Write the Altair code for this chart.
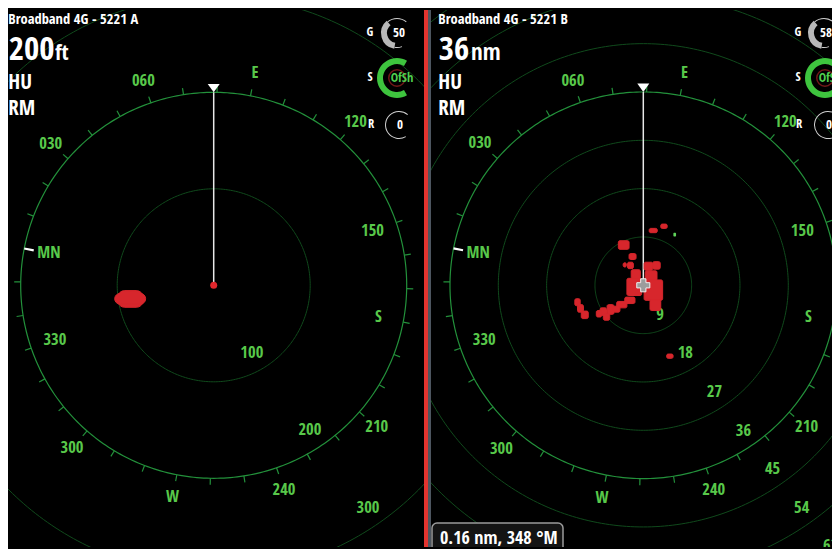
import numpy as np
import pandas as pd
import altair as alt

# ---------------- data ----------------
HEADING = 79                      # compass heading shown at top of display (deg)
TICK_DEG = list(range(10, 360, 10))
LABEL_DEG = [0, 30, 60, 90, 120, 150, 180, 210, 240, 270, 300, 330]
LABEL_TXT = ["MN", "030", "060", "E", "120", "150", "S", "210", "240", "W", "300", "330"]

A_RINGS = [100, 200, 300]         # ft
A_RANGE = 200
B_RINGS = [9, 18, 27, 36, 45, 54, 63]   # nm
B_RANGE = 36

# radar echoes, panel A (ft)
A_ECHO_X0 = [-99.5, -102.6]
A_ECHO_X1 = [-73.0, -70.5]
A_ECHO_Y0 = [-22.8, -19.5]
A_ECHO_Y1 = [-5.5, -8.5]

# radar echoes, panel B (nm)
B_ECHO_X0 = [-4.65, 1.1, 3.25, -2.65, -3.75, -2.95, 0.15, 1.75, -2.25, -3.05, 0.35, 0.15, 1.25,
             -3.45, -4.95, -8.05, -6.75, -5.55, -12.75, -12.25, -11.55, -8.75, -7.45, 4.35]
B_ECHO_X1 = [-2.65, 2.6, 4.45, -1.35, -3.15, -1.85, 1.75, 3.15, -0.55, -0.3, 2.55, 3.6, 3.25,
             -1.55, -3.05, -6.85, -5.45, -4.35, -11.75, -11.15, -10.25, -7.75, -6.25, 5.55]
B_ECHO_Y0 = [6.7, 9.8, 10.6, 4.8, 3.4, 3.1, 2.8, 3.0, 1.2, -1.9, 0.9, -2.8, -4.7,
             -3.4, -4.2, -5.6, -5.4, -5.0, -3.8, -5.0, -6.2, -5.9, -6.5, -13.6]
B_ECHO_Y1 = [8.3, 10.6, 11.4, 5.9, 4.2, 4.3, 4.3, 4.4, 2.9, 1.3, 2.7, 1.0, -2.7,
             -2.2, -3.0, -4.2, -3.6, -3.9, -2.5, -3.6, -4.8, -4.7, -5.3, -12.8]
B_GREEN_X0 = [5.6]
B_GREEN_X1 = [6.1]
B_GREEN_Y0 = [9.1]
B_GREEN_Y1 = [9.8]

# ---------------- styling ----------------
WA, WB, H = 416, 408, 537
GREEN = "#58c84a"
RING_COL = "#104a1c"
BRG_COL = "#23913b"
RED = "#d7262c"
FONT = "Open Sans Condensed"
RANGE_LABEL_ANGLE = 143


def pol(r, disp_deg):
    a = np.deg2rad(disp_deg)
    return r * np.sin(a), r * np.cos(a)


def ring_df(rings):
    ang = np.arange(0, 361, 1.0)
    rows = []
    for r in rings:
        xs, ys = pol(r, ang)
        for k in range(len(ang)):
            rows.append({"ring": r, "k": k, "x": xs[k], "y": ys[k]})
    return pd.DataFrame(rows)


def txt(text, x, y, size, color="white", align="left", baseline="alphabetic"):
    return alt.Chart(pd.DataFrame({"t": [text]})).mark_text(
        clip=True, font=FONT, fontSize=size, color=color, align=align, baseline=baseline
    ).encode(x=alt.value(x), y=alt.value(y), text="t:N")


def arc(cx, cy, r_out, r_in, a0, a1, color):
    return alt.Chart(pd.DataFrame({"k": [0]})).mark_arc(
        clip=True, radius=r_out, radius2=r_in,
        theta=float(np.deg2rad(a0)), theta2=float(np.deg2rad(a1)), color=color
    ).encode(x=alt.value(cx), y=alt.value(cy))


def panel(W, rings, rng, ppu, cx, cy, echo, green, center_kind, round_echo, hud, gauge):
    xs = alt.Scale(domain=[-cx / ppu, (W - cx) / ppu], nice=False, zero=False)
    ys = alt.Scale(domain=[-(H - cy) / ppu, cy / ppu], nice=False, zero=False)

    def ex(f):
        return alt.X(f"{f}:Q", scale=xs, axis=None)

    def ey(f):
        return alt.Y(f"{f}:Q", scale=ys, axis=None)

    R = rng
    layers = []
    layers.append(alt.Chart(ring_df([r for r in rings if r != rng])).mark_line(
        clip=True, color=RING_COL, strokeWidth=1).encode(
        x=ex("x"), y=ey("y"), detail="ring:N", order="k:Q"))
    layers.append(alt.Chart(ring_df([rng])).mark_line(
        clip=True, color=BRG_COL, strokeWidth=1.2).encode(
        x=ex("x"), y=ey("y"), detail="ring:N", order="k:Q"))
    d = np.array(TICK_DEG, float) - HEADING
    x1, y1 = pol(R, d)
    x2, y2 = pol(R * 1.034, d)
    tdf = pd.DataFrame({"x": x1, "y": y1, "x2": x2, "y2": y2})
    layers.append(alt.Chart(tdf).mark_rule(clip=True, color=BRG_COL, strokeWidth=1.2).encode(
        x=ex("x"), y=ey("y"), x2="x2", y2="y2"))
    mx1, my1 = pol(R, -HEADING)
    mx2, my2 = pol(R * 0.95, -HEADING)
    mdf = pd.DataFrame({"x": [mx1], "y": [my1], "x2": [mx2], "y2": [my2]})
    layers.append(alt.Chart(mdf).mark_rule(clip=True, color="white", strokeWidth=2.2).encode(
        x=ex("x"), y=ey("y"), x2="x2", y2="y2"))
    ld = np.array(LABEL_DEG, float) - HEADING
    inside = np.abs(np.sin(np.deg2rad(ld))) > 0.85
    lr = np.where(inside, R * 0.870, R * 1.119)
    lx, ly = pol(lr, ld)
    ldf = pd.DataFrame({"x": lx, "y": ly, "t": LABEL_TXT})
    layers.append(alt.Chart(ldf).mark_text(
        clip=True, font=FONT, fontSize=16.5, color=GREEN, align="center", baseline="middle").encode(
        x=ex("x"), y=ey("y"), text="t:N"))
    rx, ry = pol(np.array(rings, float), RANGE_LABEL_ANGLE)
    rdf = pd.DataFrame({"x": rx, "y": ry, "t": [str(r) for r in rings]})
    layers.append(alt.Chart(rdf).mark_text(
        clip=True, font=FONT, fontSize=16.5, color=GREEN, align="right", baseline="middle",
        dx=-8.5, dy=-9).encode(x=ex("x"), y=ey("y"), text="t:N"))
    hdf = pd.DataFrame({"x": [0.0], "y": [0.0], "x2": [0.0], "y2": [float(R)]})
    layers.append(alt.Chart(hdf).mark_rule(clip=True, color="#e8e8e8", strokeWidth=1.5).encode(
        x=ex("x"), y=ey("y"), x2="x2", y2="y2"))
    layers.append(alt.Chart(pd.DataFrame({"x": [0.0], "y": [float(R)]})).mark_point(
        clip=True, shape="M-1,-1.4L1,-1.4L0,0Z", filled=True, size=144, color="white",
        opacity=1).encode(x=ex("x"), y=ey("y")))
    layers.append(alt.Chart(echo).mark_rect(
        clip=True, color=RED, stroke=RED, strokeWidth=1, cornerRadius=round_echo).encode(
        x=ex("x0"), x2="x1", y=ey("y0"), y2="y1"))
    if green is not None:
        layers.append(alt.Chart(green).mark_rect(clip=True, color="#5fd35a", cornerRadius=1).encode(
            x=ex("x0"), x2="x1", y=ey("y0"), y2="y1"))
    cdf = pd.DataFrame({"x": [0.0], "y": [0.0]})
    if center_kind == "dot":
        layers.append(alt.Chart(cdf).mark_point(
            clip=True, shape="circle", filled=True, size=49, color="#e0262c", opacity=1).encode(
            x=ex("x"), y=ey("y")))
    else:
        layers.append(alt.Chart(cdf).mark_point(
            clip=True, shape="cross", filled=True, size=170, fill="#9c9c9c", stroke="#f0f0f0",
            strokeWidth=1, opacity=1).encode(x=ex("x"), y=ey("y")))
    layers += hud
    layers += gauge
    return alt.layer(*layers).properties(width=W, height=H)


def hud(x0, title, big, unit, unit_x, unit_size):
    return [
        txt(title, x0, 13.7, 14.5),
        txt(big, x0 + 0.5, 50.3, 33),
        txt(unit, unit_x, 50.3, unit_size),
        txt("HU", x0, 79.3, 21),
        txt("RM", x0, 104.7, 21),
    ]


def gauges(lx, gx, sx, rx, gval):
    return [
        txt("G", lx, 22, 12.5, align="center", baseline="middle"),
        txt("S", lx, 67, 12.5, align="center", baseline="middle"),
        txt("R", lx + 1, 114, 12.5, align="center", baseline="middle"),
        arc(gx, 23, 16, 10, 190, 320, "#b8b8b8"),
        arc(gx, 23, 15, 14, 320, 400, "#cfcfcf"),
        arc(gx, 23, 15, 14, 160, 190, "#cfcfcf"),
        txt(gval, gx + 2, 23, 13, align="center", baseline="middle"),
        arc(sx, 68, 20, 14, 150, 390, "#3ec43e"),
        arc(sx, 68, 9, 7.5, 0, 360, "#701818"),
        txt("OfSh", sx + 5, 68, 12.5, color="#4fd04f", align="center", baseline="middle"),
        arc(rx, 115, 14, 13, 150, 400, "#d0d0d0"),
        txt("0", rx + 1, 115, 13, align="center", baseline="middle"),
    ]


echo_a = pd.DataFrame({"x0": A_ECHO_X0, "x1": A_ECHO_X1, "y0": A_ECHO_Y0, "y1": A_ECHO_Y1})
echo_b = pd.DataFrame({"x0": B_ECHO_X0, "x1": B_ECHO_X1, "y0": B_ECHO_Y0, "y1": B_ECHO_Y1})
green_b = pd.DataFrame({"x0": B_GREEN_X0, "x1": B_GREEN_X1, "y0": B_GREEN_Y0, "y1": B_GREEN_Y1})

pA = panel(WA, A_RINGS, A_RANGE, 0.965, 205.7, 275.3, echo_a, None, "dot", 7,
           hud(0.3, "Broadband 4G - 5221 A", "200", "ft", 47, 22),
           gauges(362, 389, 389, 391, "50"))

divider = [
    alt.Chart(pd.DataFrame({"k": [0]})).mark_rule(color="#e3342f", strokeWidth=4).encode(
        x=alt.value(2), y=alt.value(0), y2=alt.value(H)),
    alt.Chart(pd.DataFrame({"k": [0]})).mark_rule(color="#4d5660", strokeWidth=3).encode(
        x=alt.value(5.5), y=alt.value(0), y2=alt.value(H)),
    alt.Chart(pd.DataFrame({"k": [0]})).mark_rect(
        clip=True, fill="#141414", stroke="#9a9a9a", strokeWidth=1.5, cornerRadius=5).encode(
        x=alt.value(8), x2=alt.value(139), y=alt.value(513), y2=alt.value(548)),
    txt("0.16 nm, 348 °M", 16, 533.5, 18),
]

pB = panel(WB, B_RINGS, B_RANGE, 5.37, 219.3, 275.3, echo_b, green_b, "cross", 1.5,
           hud(14.3, "Broadband 4G - 5221 B", "36", "nm", 47, 23) + divider,
           gauges(374, 400, 401, 404, "58"))

chart = alt.hconcat(pA, pB, spacing=0).properties(
    padding=0, bounds="flush", background="#000000"
).configure_view(stroke=None)

chart.save("out.html", embed_options={"renderer": "svg", "actions": False})
